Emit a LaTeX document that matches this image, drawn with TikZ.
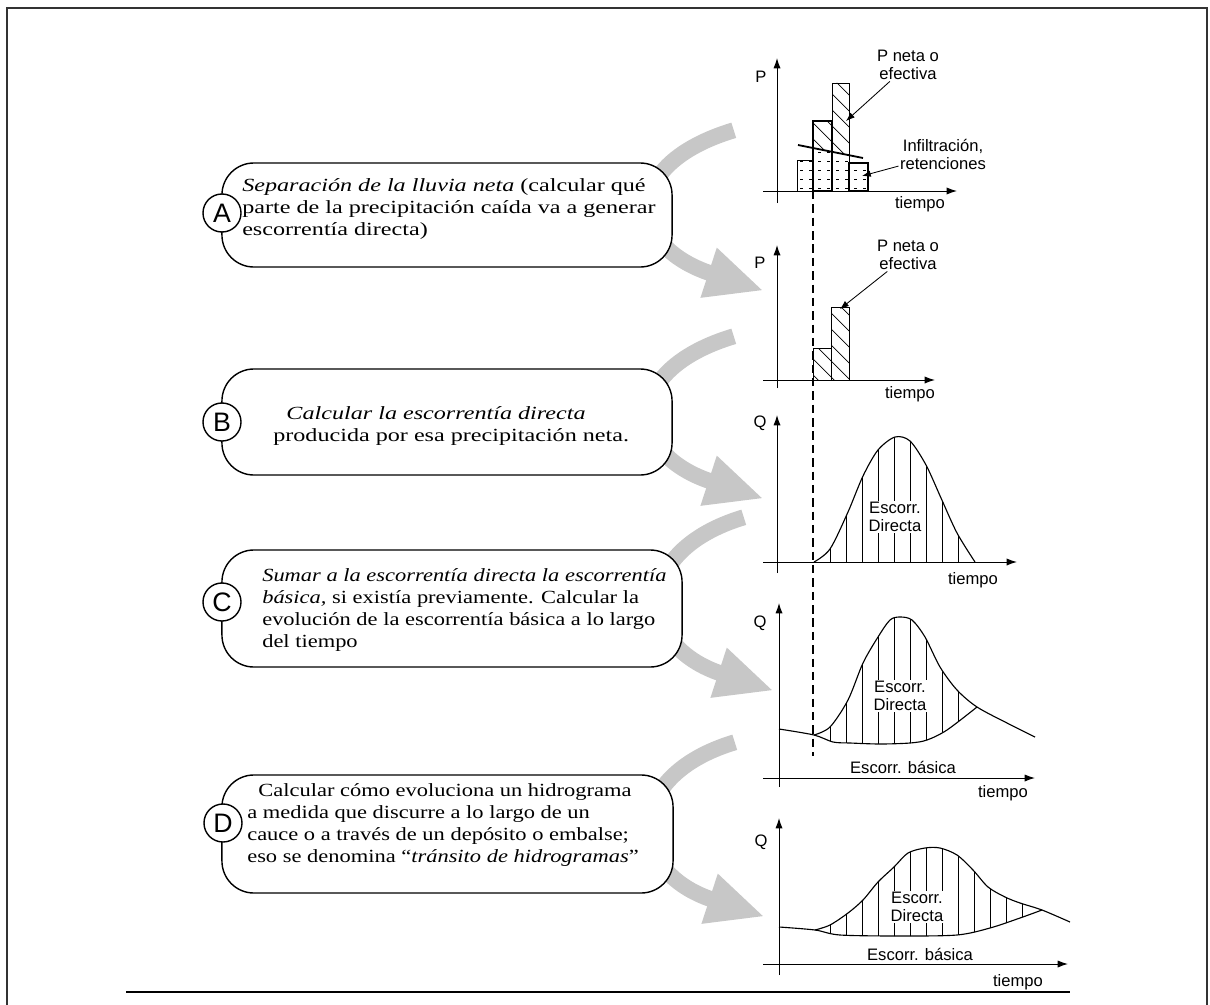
\documentclass[tikz,border=0pt]{standalone}
\usepackage{fontspec}
\setmainfont{Liberation Serif}
\setsansfont{Liberation Sans}
\newfontfamily\stepfont[FakeStretch=1.3]{Liberation Serif}
\newfontfamily\stepfontnarrow[FakeStretch=1.21]{Liberation Serif}
\usepackage{tikz}
\usetikzlibrary{arrows.meta,positioning,calc,backgrounds}

\definecolor{bandgray}{gray}{0.78}
\definecolor{framegray}{gray}{0.2}

\begin{document}
\begin{tikzpicture}[x=0.025cm, y=-0.025cm,
  stepbox/.style={
    draw, line width=1pt, rounded corners=0.8cm, fill=white
  },
  letter/.style={draw, circle, line width=1pt, fill=white,
    minimum size=0.95cm, inner sep=0pt,
    font=\sffamily\fontsize{19}{19}\selectfont},
  steptext/.style={anchor=west, align=left, inner sep=0pt,
    font=\stepfont\fontsize{13.2}{15.6}\selectfont},
  narrowtext/.style={steptext,
    font=\stepfontnarrow\fontsize{13.2}{15.6}\selectfont},
  band/.style={draw=bandgray, line width=0.4cm,
    -{Triangle[length=1.45cm, width=1.2cm]}},
  axis/.style={line width=0.7pt, -{Latex[length=2.6mm, width=1.8mm]}},
  lbl/.style={font=\sffamily\fontsize{11.8}{12.8}\selectfont,
    align=center, inner sep=1pt},
  gap/.style={lbl, fill=white},
  ptr/.style={line width=0.6pt, -{Latex[length=2.2mm, width=1.6mm]}},
  hatch/.style={line width=0.5pt},
  curve/.style={line width=0.8pt}]

\useasboundingbox (0,0) rectangle (1210,1005);

% Page frame and rule
\draw[framegray, line width=2pt] (7,1005) -- (7,8) -- (1207,8) -- (1207,1005);
\draw[line width=1.4pt] (126,992) -- (1070,992);

% The four steps
\node[stepbox, minimum width=11.25cm, minimum height=2.6cm]   (boxA) at (447,215) {};
\node[stepbox, minimum width=11.25cm, minimum height=2.65cm]  (boxB) at (447,422) {};
\node[stepbox, minimum width=11.5cm,  minimum height=2.925cm] (boxC) at (452,608.5) {};
\node[stepbox, minimum width=11.275cm,minimum height=2.95cm]  (boxD) at (447.5,834) {};

\node[letter] (letA) at (222,213) {A};
\node[letter] (letB) at (222,422) {B};
\node[letter] (letC) at (222,602) {C};
\node[letter] (letD) at (223,823) {D};

\node[steptext] (txtA) at (242,209)
  {\textit{Separación de la lluvia neta} (calcular qué\\
   parte de la precipitación caída va a generar\\
   escorrentía directa)};
\node[steptext] (txtB) at (273,426)
  {\hspace*{0.33cm}\textit{Calcular la escorrentía directa}\\
   producida por esa precipitación neta.};
\node[narrowtext] (txtC) at (262,610)
  {\textit{Sumar a la escorrentía directa la escorrentía}\\
   \textit{básica,} si existía previamente. Calcular la\\
   evolución de la escorrentía básica a lo largo\\
   del tiempo};
\node[narrowtext] (txtD) at (247,825)
  {\hspace*{0.28cm}Calcular cómo evoluciona un hidrograma\\
   a medida que discurre a lo largo de un\\
   cauce o a través de un depósito o embalse;\\
   eso se denomina “\textit{tránsito de hidrogramas}”};

% Gray bands passing behind each step
\begin{scope}[on background layer]
\foreach \b in {boxA,boxB,boxC,boxD}
  \draw[band] ($(\b.north east)+(61,-32)$)
    .. controls ($(\b.north east)+(-52,2)$) and ($(\b.south east)+(-47,-22)$)
    .. ($(\b.south east)+(91,23)$);
\end{scope}

% --- Hyetograph: total rain and losses
\draw[axis] (763,191) -- (957,191);
\draw[axis] (777,203) -- (777,58);
\node[lbl] (p1) at (761,77) {P};
\node[lbl] (t1) at (920,204) {tiempo};

\begin{scope}
  \clip (797,191) -- (797,160) -- (813,160) -- (813,148) -- (849,155.2)
    -- (849,163) -- (868,163) -- (868,191) -- cycle;
  \foreach \x in {800,809,...,866}
    \foreach \y in {152,161,...,190}
      \fill (\x,\y) rectangle ++(3,1.2);
\end{scope}
\begin{scope}
  \clip (813,148) -- (813,121) -- (832,121) -- (832,83) -- (849,83)
    -- (849,155.2) -- cycle;
  \foreach \k in {0,...,8}
    \draw[hatch] (780,10+16*\k) -- ++(110,110);
\end{scope}
\draw[line width=0.6pt] (797,191) rectangle (813,160);
\draw[line width=1.3pt] (813,191) rectangle (832,121);
\draw[line width=0.6pt] (832,191) rectangle (849,83);
\draw[line width=1.3pt] (849,191) rectangle (868,163);
\draw[line width=1.3pt] (798,145) -- (863,158);

\node[lbl] (pn1) at (908,65) {P neta o\\efectiva};
\coordinate (pn1tip) at (846,121);
\draw[ptr] (pn1) -- (pn1tip);
\node[lbl] (inf) at (943,154) {Infiltración,\\retenciones};
\coordinate (inftip) at (862,176);
\draw[ptr] (inf) -- (inftip);

% --- Hyetograph: net rain only
\draw[axis] (763,380) -- (935,380);
\draw[axis] (777,388) -- (777,245);
\node[lbl] (p2) at (760,263) {P};
\node[lbl] (t2) at (910,394) {tiempo};

\begin{scope}
  \clip (813,380) -- (813,348) -- (831,348) -- (831,307) -- (849,307)
    -- (849,380) -- cycle;
  \foreach \k in {0,...,8}
    \draw[hatch] (780,230+16*\k) -- ++(110,110);
\end{scope}
\draw[line width=0.6pt] (813,380) rectangle (831,348);
\draw[line width=0.6pt] (831,380) rectangle (849,307);

\node[lbl] (pn2) at (908,255) {P neta o\\efectiva};
\coordinate (pn2tip) at (840,309);
\draw[ptr] (pn2) -- (pn2tip);

% --- Direct runoff hydrograph
\draw[axis] (763,562) -- (1017,562);
\draw[axis] (777,573) -- (777,415);
\node[lbl] (q3) at (760,423) {Q};
\node[lbl] (t3) at (973,580) {tiempo};

\begin{scope}
  \clip plot[smooth] coordinates {(814,562) (830,549) (848,512) (863,476)
    (878,450) (895,437) (910,441) (926,465) (941,498) (957,533) (975,562)} -- cycle;
  \foreach \x in {830,846,...,958}
    \draw[hatch] (\x,562) -- (\x,430);
\end{scope}
\draw[curve] plot[smooth] coordinates {(814,562) (830,549) (848,512) (863,476)
  (878,450) (895,437) (910,441) (926,465) (941,498) (957,533) (975,562)};
\node[gap] (d3) at (895,517) {Escorr.\\Directa};

% --- Direct runoff on top of base flow
\draw[axis] (763,778) -- (1035,778);
\draw[axis] (779,787) -- (779,603);
\node[lbl] (q4) at (760,623) {Q};
\node[lbl] (t4) at (1003,793) {tiempo};

\begin{scope}
  \clip plot[smooth] coordinates {(814,735) (830,727) (848,700) (863,663)
    (878,637) (890,620) (900,617) (912,620) (925,637) (940,667) (957,690) (977,707)}
    -- plot[smooth] coordinates {(977,707) (947,730) (927,740) (910,743)
    (880,744) (850,743) (833,742) (814,735)} -- cycle;
  \foreach \x in {830,846,...,958}
    \draw[hatch] (\x,760) -- (\x,610);
\end{scope}
\draw[curve] plot[smooth] coordinates {(779,729) (814,735) (833,742) (850,743)
  (880,744) (910,743) (927,740) (947,730) (977,707)};
\draw[curve] plot[smooth] coordinates {(814,735) (830,727) (848,700) (863,663)
  (878,637) (890,620) (900,617) (912,620) (925,637) (940,667) (957,690) (977,707)
  (1007,723) (1035,737)};
\node[gap] (d4) at (900,696) {Escorr.\\Directa};
\node[lbl] (b4) at (903,767) {Escorr. básica};

% --- Routed hydrograph
\draw[axis] (763,964) -- (1068,964);
\draw[axis] (779,975) -- (779,818);
\node[lbl] (q5) at (761,842) {Q};
\node[lbl] (t5) at (1018,982) {tiempo};

\begin{scope}
  \clip plot[smooth] coordinates {(815,930) (830,925) (848,913) (863,900)
    (878,882) (894,867) (908,853) (925,848) (940,848) (957,855) (973,870)
    (988,887) (1005,897) (1020,903) (1042,910)}
    -- plot[smooth] coordinates {(1042,910) (1020,918) (990,928) (957,935)
    (900,936) (840,935) (815,930)} -- cycle;
  \foreach \x in {830,846,...,1022}
    \draw[hatch] (\x,945) -- (\x,840);
\end{scope}
\draw[curve] plot[smooth] coordinates {(779,927) (815,930) (840,935) (900,936)
  (957,935) (990,928) (1020,918) (1042,910)};
\draw[curve] plot[smooth] coordinates {(815,930) (830,925) (848,913) (863,900)
  (878,882) (894,867) (908,853) (925,848) (940,848) (957,855) (973,870)
  (988,887) (1005,897) (1020,903) (1042,910) (1070,922)};
\node[gap] (d5) at (917,907) {Escorr.\\Directa};
\node[lbl] (b5) at (920,954) {Escorr. básica};

% Start of net rain carried down
\draw[line width=1.3pt, dash pattern=on 6pt off 3.5pt] (813,191) -- (813,756);

\end{tikzpicture}
\end{document}
